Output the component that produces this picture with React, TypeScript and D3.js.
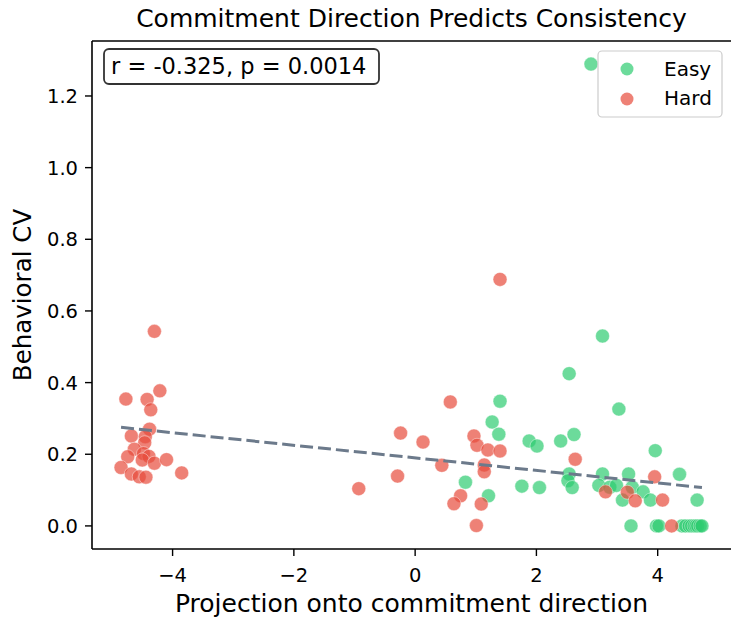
import React from "react";
import * as d3 from "d3";

// Easy trials: projection onto commitment direction vs behavioral CV
const easyX = [2.90, 3.09, 2.54, 3.36, 1.40, 1.27, 1.38, 1.88, 2.01, 2.40, 2.62, 3.96, 4.36, 0.83, 1.21, 1.76, 2.05, 2.54, 2.52, 2.59, 3.09, 3.03, 3.21, 3.32, 3.52, 3.58, 3.76, 3.42, 3.88, 4.65, 3.56, 3.98, 4.02, 4.40, 4.46, 4.52, 4.56, 4.60, 4.63, 4.66, 4.70, 4.73];
const easyY = [1.289, 0.530, 0.425, 0.326, 0.348, 0.290, 0.256, 0.237, 0.223, 0.237, 0.255, 0.210, 0.144, 0.122, 0.084, 0.111, 0.107, 0.145, 0.126, 0.107, 0.145, 0.113, 0.108, 0.113, 0.145, 0.108, 0.095, 0.072, 0.072, 0.072, 0, 0, 0, 0, 0, 0, 0, 0, 0, 0, 0, 0];

// Hard trials
const hardX = [-4.21, -4.77, -4.42, -4.36, -4.38, -4.68, -4.45, -4.46, -4.63, -4.48, -4.74, -4.39, -4.50, -4.30, -4.10, -4.85, -4.68, -4.55, -4.44, -3.85, -4.30, 1.40, 0.58, -0.24, 0.13, 0.97, 1.02, 1.20, 1.40, 0.44, 1.14, 1.14, -0.29, -0.93, 0.75, 0.64, 1.09, 1.01, 2.64, 3.14, 3.50, 3.63, 3.95, 4.08, 4.23];
const hardY = [0.377, 0.354, 0.353, 0.324, 0.270, 0.251, 0.249, 0.232, 0.214, 0.202, 0.193, 0.194, 0.184, 0.175, 0.185, 0.163, 0.145, 0.137, 0.136, 0.148, 0.543, 0.688, 0.346, 0.259, 0.234, 0.251, 0.225, 0.212, 0.209, 0.169, 0.170, 0.151, 0.139, 0.104, 0.084, 0.062, 0.061, 0.001, 0.186, 0.095, 0.094, 0.070, 0.137, 0.072, 0];

// Linear fit
const fitSlope = -0.01754;
const fitIntercept = 0.190;

const xTicks = [-4, -2, 0, 2, 4];
const yTicks = [0.0, 0.2, 0.4, 0.6, 0.8, 1.0, 1.2];

const statsLabel = "r = -0.325, p = 0.0014";
const titleText = "Commitment Direction Predicts Consistency";
const xLabel = "Projection onto commitment direction";
const yLabel = "Behavioral CV";

const W = 731;
const H = 617;
const margin = { left: 92, right: 0, top: 41, bottom: 68 };

const EASY = "#2ecc71";
const HARD = "#e74c3c";
const FONT = "DejaVu Sans, sans-serif";

export default function App() {
  const allX = [...easyX, ...hardX];
  const allY = [...easyY, ...hardY];
  const [x0, x1] = d3.extent(allX) as [number, number];
  const [y0, y1] = d3.extent(allY) as [number, number];
  const px = (x1 - x0) * 0.05;
  const py = (y1 - y0) * 0.05;

  const x = d3.scaleLinear().domain([x0 - px, x1 + px]).range([margin.left, W - margin.right]);
  const y = d3.scaleLinear().domain([y0 - py, y1 + py]).range([H - margin.bottom, margin.top]);

  const easy = easyX.map((v, i) => ({ x: v, y: easyY[i] }));
  const hard = hardX.map((v, i) => ({ x: v, y: hardY[i] }));

  const line = d3.line<number>().x((d) => x(d)).y((d) => y(fitIntercept + fitSlope * d));
  const plotBottom = H - margin.bottom;
  const plotRight = W - margin.right;

  return (
    <svg width={W} height={H} style={{ position: "absolute", left: 0, top: 0, background: "#fff" }} fontFamily={FONT}>
      <text x={(margin.left + plotRight) / 2} y={27} textAnchor="middle" fontSize={25} fill="#000">{titleText}</text>

      <g>
        {easy.map((d, i) => (
          <circle key={"e" + i} cx={x(d.x)} cy={y(d.y)} r={7} fill={EASY} fillOpacity={0.7} stroke="#fff" strokeWidth={0.6} strokeOpacity={0.7} />
        ))}
        {hard.map((d, i) => (
          <circle key={"h" + i} cx={x(d.x)} cy={y(d.y)} r={7} fill={HARD} fillOpacity={0.7} stroke="#fff" strokeWidth={0.6} strokeOpacity={0.7} />
        ))}
      </g>

      <path d={line([x0, x1]) || ""} fill="none" stroke="#6c7a8b" strokeWidth={3} strokeDasharray="13 5" />

      {/* axes frame */}
      <line x1={margin.left} x2={margin.left} y1={margin.top} y2={plotBottom} stroke="#000" strokeWidth={1.6} />
      <line x1={margin.left} x2={plotRight} y1={plotBottom} y2={plotBottom} stroke="#000" strokeWidth={1.6} />
      <line x1={margin.left} x2={plotRight} y1={margin.top} y2={margin.top} stroke="#000" strokeWidth={1.6} />

      {xTicks.map((t) => (
        <g key={"xt" + t} transform={`translate(${x(t)},${plotBottom})`}>
          <line y1={0} y2={7} stroke="#000" strokeWidth={1.4} />
          <text y={33} textAnchor="middle" fontSize={19.5} fill="#000">{t < 0 ? "\u2212" + Math.abs(t) : String(t)}</text>
        </g>
      ))}
      {yTicks.map((t) => (
        <g key={"yt" + t} transform={`translate(${margin.left},${y(t)})`}>
          <line x1={-7} x2={0} stroke="#000" strokeWidth={1.4} />
          <text x={-14} dy="0.36em" textAnchor="end" fontSize={19.5} fill="#000">{t.toFixed(1)}</text>
        </g>
      ))}

      <text x={(margin.left + plotRight) / 2} y={612} textAnchor="middle" fontSize={25} fill="#000">{xLabel}</text>
      <text transform={`translate(31,${(margin.top + plotBottom) / 2}) rotate(-90)`} textAnchor="middle" fontSize={24.5} fill="#000">{yLabel}</text>

      {/* stats box */}
      <rect x={104} y={49} width={275} height={35} rx={5} fill="#fff" stroke="#333" strokeWidth={1.8} />
      <text x={111} y={74} fontSize={22.5} fill="#000">{statsLabel}</text>

      {/* legend */}
      <g>
        <rect x={598} y={51} width={124} height={66} rx={4} fill="#fff" fillOpacity={0.85} stroke="#ccc" strokeWidth={1.2} />
        <circle cx={627} cy={69} r={6.5} fill={EASY} fillOpacity={0.7} />
        <text x={664} y={76} fontSize={20} fill="#000">Easy</text>
        <circle cx={627} cy={99} r={6.5} fill={HARD} fillOpacity={0.7} />
        <text x={664} y={105} fontSize={20} fill="#000">Hard</text>
      </g>
    </svg>
  );
}
